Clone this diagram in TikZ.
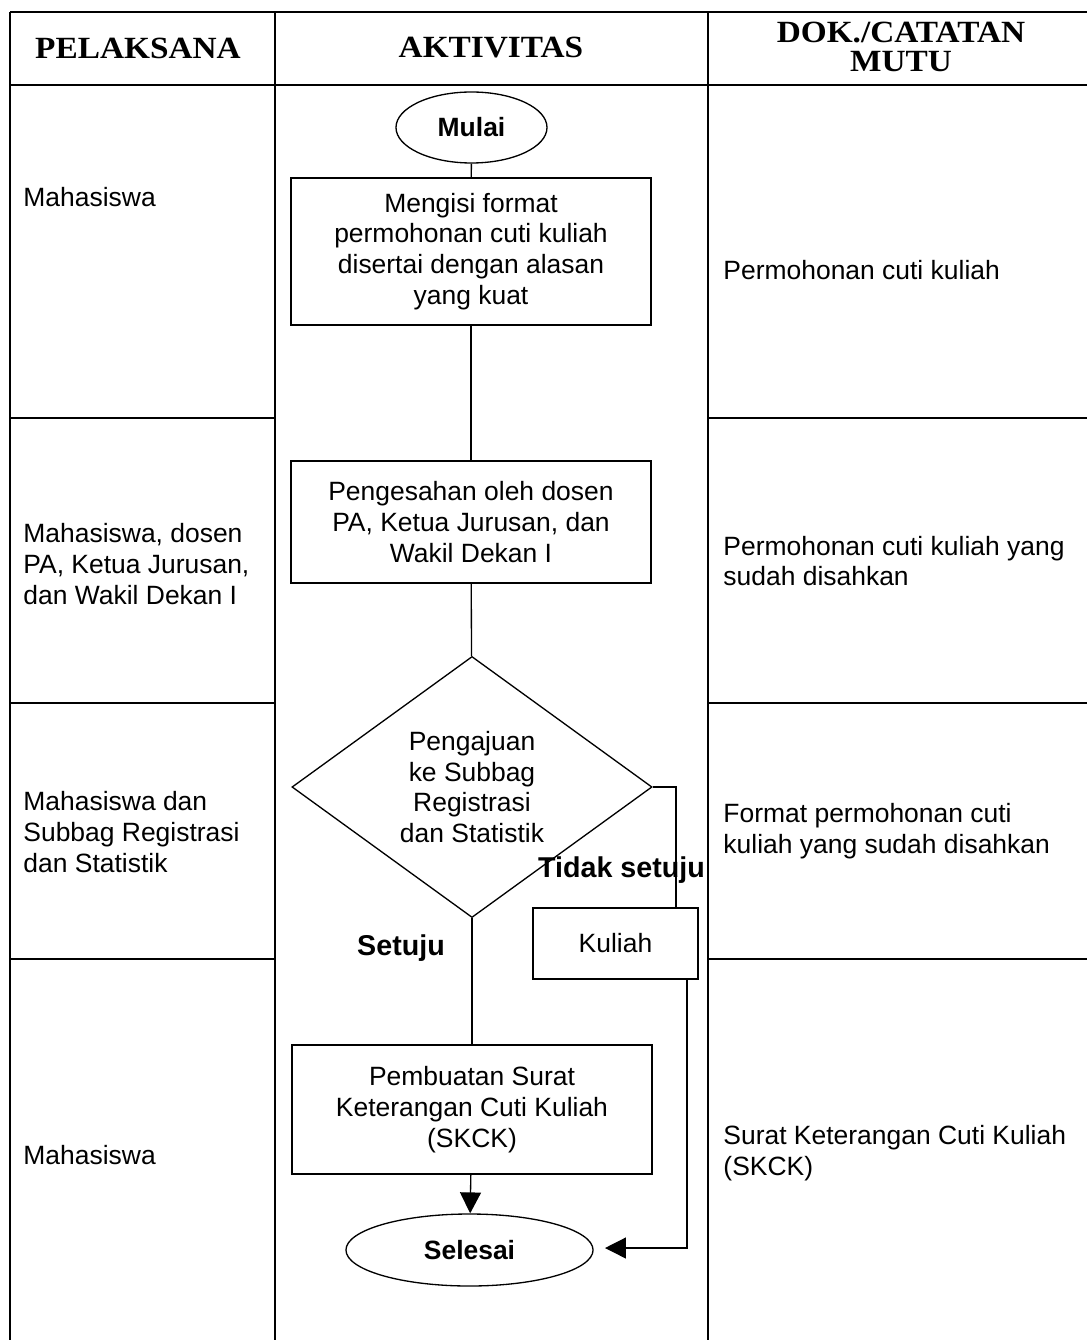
\documentclass[tikz,border=0pt]{standalone}
\usepackage{fontspec}
\setmainfont{Liberation Sans}
\newfontfamily\headfont[FakeStretch=1.08]{Liberation Serif}
\usetikzlibrary{shapes.geometric,arrows.meta}
\begin{document}
\begin{tikzpicture}[x=0.01595cm,y=-0.01595cm,
    every node/.style={font=\fontsize{12}{14}\selectfont},
    kotak/.style={draw,line width=.6pt,rectangle,align=center,minimum width=5.742cm,inner sep=0pt},
    oval/.style={draw,line width=.6pt,ellipse,inner sep=0pt,font=\fontsize{12}{14}\selectfont\bfseries},
    ket/.style={anchor=west,align=left,inner sep=0pt},
    judul/.style={align=center,inner sep=0pt,font=\headfont\fontsize{14}{13.2}\selectfont\bfseries},
    tebal/.style={inner sep=0pt,font=\fontsize{13}{15}\selectfont\bfseries},
    garis/.style={line width=.6pt},
    panah/.style={line width=.6pt,-{Triangle[length=9.5pt,width=9.5pt]}}]
  \useasboundingbox (0,0) rectangle (1087,1340);
  % tabel
  \draw[line width=1pt] (10,12) -- (1087,12) (10,85) -- (1087,85);
  \draw[line width=1pt] (10,12) -- (10,1340) (275,12) -- (275,1340) (708,12) -- (708,1340);
  \foreach \y in {418,703,959}
    \draw[line width=1pt] (10,\y) -- (275,\y) (708,\y) -- (1087,\y);
  \node[judul] (hpel) at (138,48) {PELAKSANA};
  \node[judul] (hakt) at (491,48) {AKTIVITAS};
  \node[judul] (hdok) at (901,47) {DOK./CATATAN\\MUTU};
  % pelaksana
  \node[ket] (pel1) at (23,197) {Mahasiswa};
  \node[ket] (pel2) at (23,564) {Mahasiswa, dosen\\PA, Ketua Jurusan,\\dan Wakil Dekan I};
  \node[ket] (pel3) at (23,832) {Mahasiswa dan\\Subbag Registrasi\\dan Statistik};
  \node[ket] (pel4) at (23,1155) {Mahasiswa};
  % dokumen
  \node[ket] (dok1) at (723,270) {Permohonan cuti kuliah};
  \node[ket] (dok2) at (723,561) {Permohonan cuti kuliah yang\\sudah disahkan};
  \node[ket] (dok3) at (723,831) {Format permohonan cuti\\kuliah yang sudah disahkan};
  \node[ket] (dok4) at (723,1153) {Surat Keterangan Cuti Kuliah\\(SKCK)};
  % aktivitas
  \node[oval,minimum width=2.408cm,minimum height=1.132cm] (mulai) at (471.5,127.5) {Mulai};
  \node[kotak,minimum height=2.345cm] (isi) at (471,251.5) {Mengisi format\\permohonan cuti kuliah\\disertai dengan alasan\\yang kuat};
  \node[kotak,minimum height=1.946cm] (sah) at (471,522) {Pengesahan oleh dosen\\PA, Ketua Jurusan, dan\\Wakil Dekan I};
  \node[draw,garis,diamond,align=center,inner sep=0pt,shape aspect=1.38,
    minimum width=5.742cm,minimum height=4.163cm] (aju) at (472,787) {Pengajuan\\ke Subbag\\Registrasi\\dan Statistik};
  \node[kotak,minimum width=2.632cm,minimum height=1.132cm] (kul) at (615.5,943.5) {Kuliah};
  \node[kotak,minimum height=2.058cm] (skck) at (472,1109.5) {Pembuatan Surat\\Keterangan Cuti Kuliah\\(SKCK)};
  \node[oval,minimum width=3.94cm,minimum height=1.148cm] (selesai) at (469.5,1250) {Selesai};
  \node[tebal] (tidak) at (621.5,870) {Tidak setuju};
  \node[tebal] (setuju) at (401,948) {Setuju};
  \coordinate (kulin) at (676,908);
  \coordinate (kulout) at (687,979);
  \coordinate (selin) at (605,1248);
  \draw[garis] (mulai) -- (isi);
  \draw[garis] (isi) -- (sah);
  \draw[garis] (sah) -- (aju);
  \draw[garis] (aju) -- (skck);
  \draw[garis] (aju.east) -| (kulin);
  \draw[panah] (skck) -- (selesai);
  \draw[panah] (kulout) |- (selin);
\end{tikzpicture}
\end{document}
